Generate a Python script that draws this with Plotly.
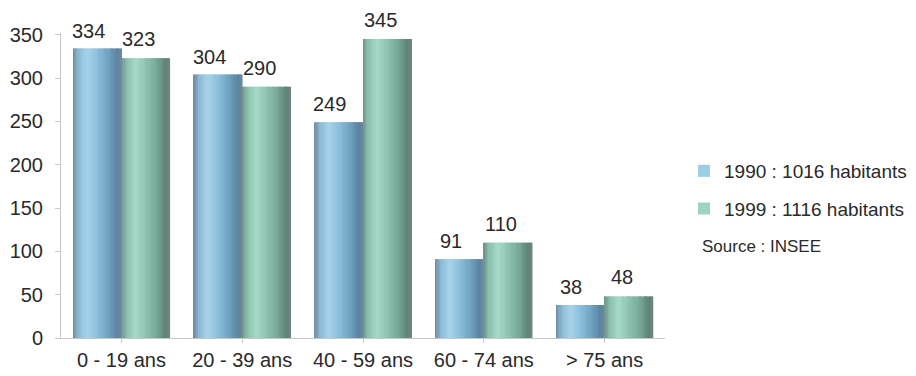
import plotly.graph_objects as go

# Population by age group
categories = ["0 - 19 ans", "20 - 39 ans", "40 - 59 ans", "60 - 74 ans", "> 75 ans"]
pop_1990 = [334, 304, 249, 91, 38]
pop_1999 = [323, 290, 345, 110, 48]
series_names = ["1990 : 1016 habitants", "1999 : 1116 habitants"]
y_ticks = [0, 50, 100, 150, 200, 250, 300, 350]

# Key colours (left edge -> right edge) that give each bar a cylindrical look
blue_keys = [(0.0, (110, 138, 163)), (0.12, (140, 185, 212)), (0.3, (166, 212, 234)),
             (0.5, (140, 192, 220)), (0.75, (110, 160, 192)), (0.92, (92, 132, 162)),
             (1.0, (108, 135, 158))]
green_keys = [(0.0, (108, 146, 136)), (0.12, (140, 192, 174)), (0.3, (166, 218, 200)),
              (0.5, (144, 197, 178)), (0.75, (116, 166, 150)), (0.92, (94, 130, 120)),
              (1.0, (110, 134, 126))]
N_STRIPS = 40


def shade(keys, t):
    for (t0, c0), (t1, c1) in zip(keys[:-1], keys[1:]):
        if t0 <= t <= t1:
            f = (t - t0) / (t1 - t0)
            r, g, b = (round(a + (b_ - a) * f) for a, b_ in zip(c0, c1))
            return f"rgb({r},{g},{b})"
    r, g, b = keys[-1][1]
    return f"rgb({r},{g},{b})"


x_idx = list(range(len(categories)))
fig = go.Figure()


def add_cylinder(values, keys, start, width, name):
    strip = width / N_STRIPS
    for i in range(N_STRIPS):
        t = (i + 0.5) / N_STRIPS
        fig.add_trace(go.Bar(
            x=x_idx, y=values,
            width=strip * 1.3, offset=start + i * strip,
            marker=dict(color=shade(keys, t), line=dict(width=0)),
            name=name, legendgroup=name,
            showlegend=(i == 14), hoverinfo="skip",
        ))


add_cylinder(pop_1990, blue_keys, -0.40, 0.40, series_names[0])
add_cylinder(pop_1999, green_keys, 0.0, 0.40, series_names[1])

# Value labels above the bars
label_font = dict(size=20, color="#2a2a2a")
annotations = []
for xi, v in zip(x_idx, pop_1990):
    annotations.append(dict(x=xi - 0.2, y=v, text=str(v), showarrow=False,
                            yanchor="middle", yshift=18, xshift=-9, font=label_font))
for xi, v in zip(x_idx, pop_1999):
    annotations.append(dict(x=xi + 0.2, y=v, text=str(v), showarrow=False,
                            yanchor="middle", yshift=19, xshift=-7, font=label_font))
annotations.append(dict(xref="paper", yref="paper", x=(700 - 61) / 604, y=(338 - 246) / 305,
                        xanchor="left", yanchor="middle", showarrow=False,
                        text="Source : INSEE", font=dict(size=17, color="#2a2a2a")))

fig.update_layout(
    width=916, height=376,
    margin=dict(l=61, r=251, t=33, b=38, autoexpand=False),
    paper_bgcolor="white", plot_bgcolor="white",
    barmode="overlay",
    font=dict(family="Liberation Sans, Arial, sans-serif", color="#2a2a2a"),
    showlegend=True,
    legend=dict(x=(684 - 61) / 604, y=(338 - 152) / 305, xanchor="left", yanchor="top",
                font=dict(size=19, color="#2a2a2a"), itemwidth=30,
                tracegroupgap=10, bgcolor="rgba(0,0,0,0)"),
    annotations=annotations,
    xaxis=dict(
        tickmode="array", tickvals=x_idx, ticktext=categories,
        range=[-0.5, len(categories) - 0.5],
        showline=True, linecolor="#c8c8c8", linewidth=1,
        ticks="outside", tickson="boundaries", ticklen=4, tickcolor="#c8c8c8",
        showgrid=False, zeroline=False,
        tickfont=dict(size=20, color="#2a2a2a"),
    ),
    yaxis=dict(
        range=[0, 352], tickvals=y_ticks,
        showline=True, linecolor="#c8c8c8", linewidth=1,
        ticks="outside", ticklen=5, tickcolor="#c8c8c8",
        ticklabelstandoff=8,
        showgrid=False, zeroline=False,
        tickfont=dict(size=20, color="#2a2a2a"),
    ),
)

fig.write_html("out.html")
